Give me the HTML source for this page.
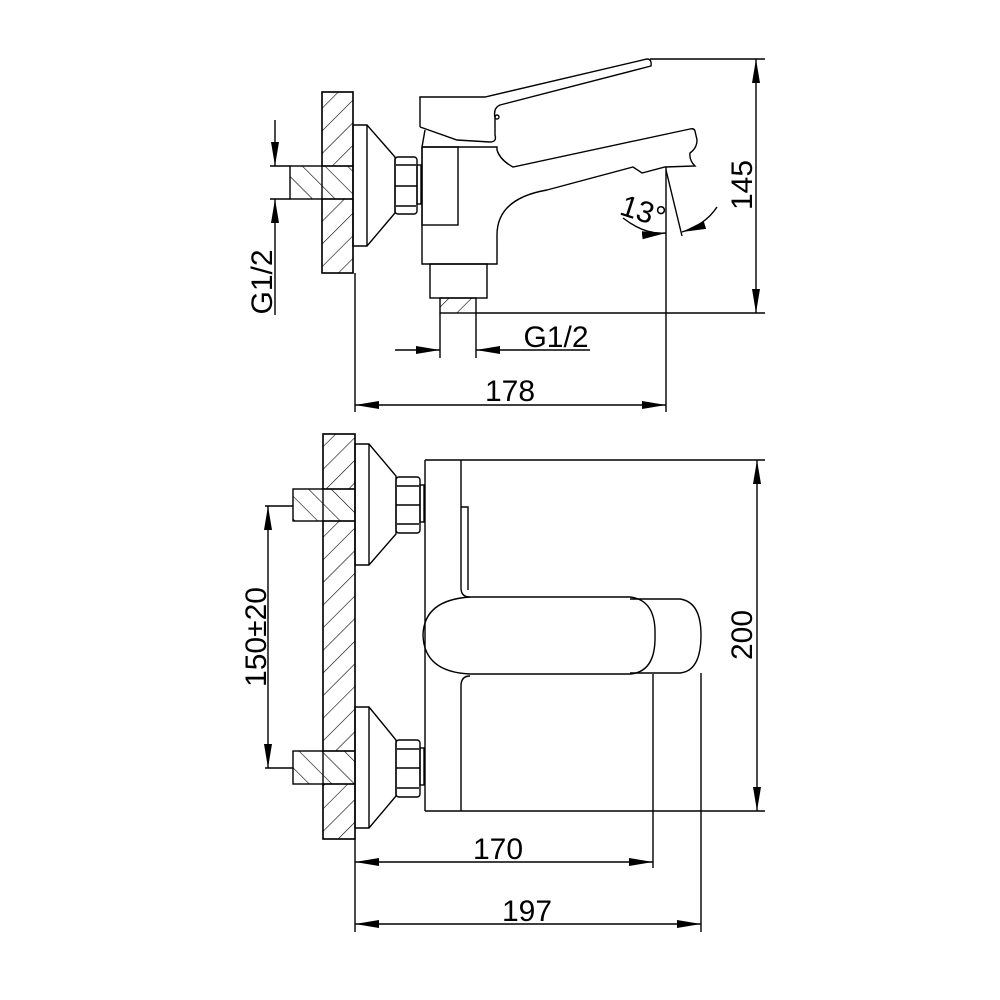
<!DOCTYPE html>
<html><head><meta charset="utf-8"><style>
html,body{margin:0;padding:0;background:#fff;}
svg{display:block;}
text{font-family:"Liberation Sans",Arial,sans-serif;font-size:30px;fill:#000;}
</style></head><body>
<svg width="1000" height="1000" viewBox="0 0 1000 1000" xmlns="http://www.w3.org/2000/svg">
<defs>
<pattern id="h1" width="16" height="16" patternUnits="userSpaceOnUse" patternTransform="rotate(45)">
<line x1="0" y1="0" x2="0" y2="16" stroke="#000" stroke-width="1.2"/></pattern>
<pattern id="h2" width="16" height="16" patternUnits="userSpaceOnUse" patternTransform="rotate(-45)">
<line x1="0" y1="0" x2="0" y2="16" stroke="#000" stroke-width="1.2"/></pattern>
<marker id="a" viewBox="0 0 24 10" refX="24" refY="5" markerWidth="24" markerHeight="10" markerUnits="userSpaceOnUse" orient="auto">
<path d="M0,1 L24,5 L0,9 Z" fill="#000"/></marker>
</defs>
<g fill="none" stroke="#000" stroke-width="1.4">
<!-- TOP VIEW -->
<rect x="322" y="92" width="31" height="74" fill="url(#h1)"/>
<rect x="322" y="199" width="31" height="74" fill="url(#h1)"/>
<rect x="322" y="92" width="31" height="181"/>
<rect x="290" y="166" width="63" height="33" fill="url(#h2)"/>
<path d="M353,125 L367,125 L395,157 L395,213 L367,246 L353,246 Z"/>
<line x1="367" y1="125" x2="367" y2="246"/>
<rect x="395" y="157" width="22" height="57" rx="3"/>
<line x1="396" y1="165" x2="416" y2="165"/><line x1="395" y1="186" x2="417" y2="186"/><line x1="396" y1="206" x2="416" y2="206"/>
<rect x="417" y="165" width="4" height="39"/>
<rect x="422" y="147" width="36" height="78"/>
<path d="M422,147 L422,264 L497,264 L497,235 C497,208 518,195 547,190 L633,167 L642,173 L665,167 L695,166 Q689,160 690,153 Q697,148 697,140 L695,131 Q694,128 690,129 L513,167 Q500,160 497,150 L497,147 L422,147"/>
<path d="M420,127 L420,97 L485,97 L647,59 Q652,59 651,66 L500,105 Q493,108 495,118 L495,135 Q497,142 490,142 L457,140 L423,128 L420,127"/>
<circle cx="497" cy="117" r="2"/>
<line x1="425" y1="130" x2="422" y2="147"/>
<rect x="430" y="264" width="57" height="34"/>
<rect x="440" y="298" width="36" height="15" fill="url(#h1)"/>
<!-- top dims -->
<line x1="270" y1="166" x2="290" y2="166"/><line x1="270" y1="199" x2="290" y2="199"/>
<line x1="275" y1="120" x2="275" y2="166" marker-end="url(#a)"/>
<line x1="275" y1="315" x2="275" y2="199" marker-end="url(#a)"/>
<line x1="440" y1="313" x2="440" y2="358"/><line x1="476" y1="313" x2="476" y2="358"/>
<line x1="395" y1="350" x2="440" y2="350" marker-end="url(#a)"/>
<line x1="590" y1="350" x2="476" y2="350" marker-end="url(#a)"/>
<line x1="355" y1="273" x2="355" y2="412"/>
<line x1="666" y1="167" x2="666" y2="412"/>
<line x1="510" y1="405" x2="355" y2="405" marker-end="url(#a)"/>
<line x1="510" y1="405" x2="666" y2="405" marker-end="url(#a)"/>
<line x1="476" y1="313" x2="765" y2="313"/>
<line x1="650" y1="59" x2="765" y2="59"/>
<line x1="756" y1="185" x2="756" y2="59" marker-end="url(#a)"/>
<line x1="756" y1="185" x2="756" y2="313" marker-end="url(#a)"/>
<line x1="666" y1="170" x2="682" y2="236"/>
<path d="M623,218 Q645,235 666,233" marker-end="url(#a)"/>
<path d="M717,207 Q705,225 682,232" marker-end="url(#a)"/>
<!-- BOTTOM VIEW -->
<rect x="323" y="434" width="32" height="55" fill="url(#h1)"/>
<rect x="323" y="521" width="32" height="230" fill="url(#h1)"/>
<rect x="323" y="784" width="32" height="55" fill="url(#h1)"/>
<rect x="323" y="434" width="32" height="405"/>
<rect x="293" y="489" width="62" height="32" fill="url(#h2)"/>
<rect x="293" y="751" width="62" height="33" fill="url(#h2)"/>
<path d="M355,444 L369,444 L396,476 L396,534 L369,565 L355,565 Z"/><line x1="369" y1="444" x2="369" y2="565"/>
<path d="M355,707 L369,707 L396,740 L396,796 L369,828 L355,828 Z"/><line x1="369" y1="707" x2="369" y2="828"/>
<rect x="396" y="477" width="24" height="56" rx="3"/>
<line x1="397" y1="486" x2="419" y2="486"/><line x1="396" y1="505" x2="420" y2="505"/><line x1="397" y1="524" x2="419" y2="524"/>
<rect x="420" y="485" width="4" height="37"/>
<rect x="396" y="740" width="24" height="57" rx="3"/>
<line x1="397" y1="749" x2="419" y2="749"/><line x1="396" y1="768" x2="420" y2="768"/><line x1="397" y1="788" x2="419" y2="788"/>
<rect x="420" y="748" width="4" height="37"/>
<path d="M425,460 L425,811"/>
<line x1="425" y1="460" x2="765" y2="460"/>
<line x1="425" y1="811" x2="765" y2="811"/>
<path d="M461,460 L461,588 Q461,597 470,597"/>
<path d="M461,811 L461,686 Q461,676 470,676"/>
<path d="M461,507 L468,507 L468,590"/>
<path d="M470,597 L630,597 Q656,600 655,635 Q656,672 630,674 L470,674 Q424,672 423,635 Q424,600 470,597 Z"/>
<path d="M630,599 L680,599 Q701,602 701,635 Q701,671 680,673 L630,673"/>
<!-- bottom dims -->
<line x1="265" y1="506" x2="293" y2="506"/><line x1="265" y1="768" x2="293" y2="768"/>
<line x1="268" y1="637" x2="268" y2="506" marker-end="url(#a)"/>
<line x1="268" y1="637" x2="268" y2="768" marker-end="url(#a)"/>
<line x1="757" y1="635" x2="757" y2="460" marker-end="url(#a)"/>
<line x1="757" y1="635" x2="757" y2="811" marker-end="url(#a)"/>
<line x1="355" y1="839" x2="355" y2="932"/>
<line x1="653" y1="674" x2="653" y2="868"/>
<line x1="701" y1="673" x2="701" y2="932"/>
<line x1="500" y1="862" x2="355" y2="862" marker-end="url(#a)"/>
<line x1="500" y1="862" x2="653" y2="862" marker-end="url(#a)"/>
<line x1="520" y1="924" x2="355" y2="924" marker-end="url(#a)"/>
<line x1="520" y1="924" x2="701" y2="924" marker-end="url(#a)"/>
</g>
<text x="510" y="401" text-anchor="middle">178</text>
<text x="556" y="347" text-anchor="middle">G1/2</text>
<text transform="translate(272,282) rotate(-90)" text-anchor="middle">G1/2</text>
<text transform="translate(752,185) rotate(-90)" text-anchor="middle">145</text>
<text transform="translate(640,221) rotate(18)" text-anchor="middle">13°</text>
<text x="498" y="859" text-anchor="middle">170</text>
<text x="527" y="921" text-anchor="middle">197</text>
<text transform="translate(266,637) rotate(-90)" text-anchor="middle">150±20</text>
<text transform="translate(752,635) rotate(-90)" text-anchor="middle">200</text>
</svg>
</body></html>
